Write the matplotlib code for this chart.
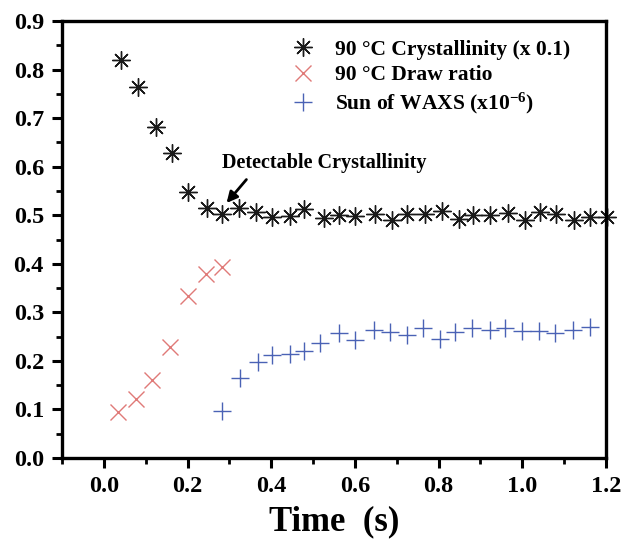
import matplotlib
matplotlib.use("Agg")
import matplotlib.pyplot as plt
from matplotlib.ticker import MultipleLocator, FormatStrFormatter

plt.rcParams['font.family'] = ['Liberation Serif', 'DejaVu Serif']
plt.rcParams['font.weight'] = 'bold'
plt.rcParams['mathtext.fontset'] = 'custom'
plt.rcParams['mathtext.rm'] = 'Liberation Serif:bold'
plt.rcParams['mathtext.bf'] = 'Liberation Serif:bold'
plt.rcParams['mathtext.it'] = 'Liberation Serif:bold'

# Crystallinity at 90 °C (scaled by 0.1)
cryst_t = [0.042, 0.082, 0.124, 0.163, 0.202, 0.246, 0.283, 0.323, 0.363, 0.403,
           0.445, 0.479, 0.525, 0.563, 0.600, 0.648, 0.688, 0.724, 0.768, 0.808,
           0.848, 0.883, 0.923, 0.967, 1.007, 1.043, 1.081, 1.123, 1.163, 1.202]
cryst_v = [0.819, 0.764, 0.682, 0.628, 0.548, 0.514, 0.502, 0.516, 0.506, 0.497,
           0.498, 0.512, 0.494, 0.501, 0.498, 0.503, 0.490, 0.503, 0.503, 0.509,
           0.493, 0.500, 0.500, 0.505, 0.491, 0.507, 0.503, 0.491, 0.496, 0.496]

# Draw ratio at 90 °C
draw_t = [0.034, 0.077, 0.116, 0.158, 0.202, 0.244, 0.283]
draw_v = [0.095, 0.121, 0.160, 0.228, 0.333, 0.380, 0.394]

# Sum of WAXS intensity (x1e-6)
waxs_t = [0.283, 0.325, 0.368, 0.403, 0.445, 0.479, 0.517, 0.563, 0.600, 0.646,
          0.684, 0.724, 0.762, 0.804, 0.840, 0.880, 0.922, 0.959, 0.999, 1.039,
          1.079, 1.121, 1.161]
waxs_v = [0.097, 0.164, 0.197, 0.212, 0.214, 0.221, 0.237, 0.257, 0.244, 0.263,
          0.260, 0.253, 0.267, 0.246, 0.260, 0.267, 0.263, 0.267, 0.262, 0.262,
          0.258, 0.263, 0.270]

labels = ["90 °C Crystallinity (x 0.1)", "90 °C Draw ratio",
          "Sun of WAXS (x10$^{-6}$)"]

fig = plt.figure(figsize=(6.24, 5.42), dpi=100)
ax = fig.add_axes([0.0994, 0.155, 0.8716, 0.806])

ax.plot(cryst_t, cryst_v, linestyle='none', marker=(8, 2, 0), markersize=13,
        markeredgewidth=1.0, color='#1a1a1a', label=labels[0], clip_on=False)
ax.plot(draw_t, draw_v, linestyle='none', marker='x', markersize=12,
        markeredgewidth=1.0, color='#e07a78', label=labels[1])
ax.plot(waxs_t, waxs_v, linestyle='none', marker='+', markersize=13,
        markeredgewidth=1.0, color='#4a62b5', label=labels[2])

ax.set_xlim(-0.1, 1.2)
ax.set_ylim(0.0, 0.9)
ax.xaxis.set_major_locator(MultipleLocator(0.2))
ax.xaxis.set_minor_locator(MultipleLocator(0.1))
ax.yaxis.set_major_locator(MultipleLocator(0.1))
ax.yaxis.set_minor_locator(MultipleLocator(0.05))
ax.xaxis.set_major_formatter(FormatStrFormatter('%.1f'))
ax.yaxis.set_major_formatter(FormatStrFormatter('%.1f'))

for s in ax.spines.values():
    s.set_linewidth(2.4)
ax.tick_params(axis='both', which='major', direction='out', length=7, width=2.2,
               labelsize=17.5, pad=6)
ax.tick_params(axis='both', which='minor', direction='out', length=4, width=2.0)

ax.set_xlabel("Time  (s)", fontsize=25, fontweight='bold', labelpad=6)

ax.text(0.282, 0.607, "Detectable Crystallinity", fontsize=14.5,
        fontweight='bold', ha='left', va='center')
ax.annotate("", xy=(0.289, 0.521), xytext=(0.345, 0.578),
            arrowprops=dict(arrowstyle='-|>', lw=2.0, color='black',
                            mutation_scale=16))

ax.legend(loc='upper left', bbox_to_anchor=(0.424, 0.958), frameon=False,
          fontsize=15.5, handlelength=1.0, handletextpad=0.95, labelspacing=0.26,
          borderaxespad=0.0, borderpad=0.0)

fig.savefig("out.png", dpi=100)
